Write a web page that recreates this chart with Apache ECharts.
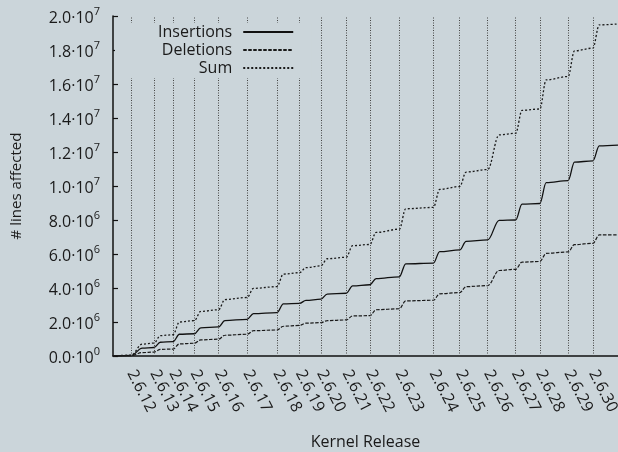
<!DOCTYPE html>
<html>
<head>
<meta charset="utf-8">
<script src="https://cdn.jsdelivr.net/npm/echarts@6/dist/echarts.min.js"></script>
<style>
  html, body { margin: 0; padding: 0; background: #cbd5da; }
  #chart { width: 618px; height: 452px; }
</style>
</head>
<body>
<div id="chart"></div>
<script>
// Kernel releases shown as vertical markers and axis labels
const releaseNames = ['2.6.12', '2.6.13', '2.6.14', '2.6.15', '2.6.16', '2.6.17', '2.6.18',
  '2.6.19', '2.6.20', '2.6.21', '2.6.22', '2.6.23', '2.6.24', '2.6.25', '2.6.26', '2.6.27',
  '2.6.28', '2.6.29', '2.6.30'];
const releaseDates = ['2005-06-17', '2005-08-28', '2005-10-27', '2006-01-02', '2006-03-19',
  '2006-06-17', '2006-09-19', '2006-11-29', '2007-02-04', '2007-04-25', '2007-07-08',
  '2007-10-09', '2008-01-24', '2008-04-16', '2008-07-13', '2008-10-09', '2008-12-24',
  '2009-03-23', '2009-06-09'];

// Sample dates for the cumulative curves: history start, then each release and the end of its merge window
const sampleDates = ['2005-04-21',
  '2005-06-17', '2005-07-22',
  '2005-08-28', '2005-09-17',
  '2005-10-27', '2005-11-16',
  '2006-01-02', '2006-01-22',
  '2006-03-19', '2006-04-08',
  '2006-06-17', '2006-07-07',
  '2006-09-19', '2006-10-09',
  '2006-11-29', '2006-12-19',
  '2007-02-04', '2007-02-24',
  '2007-04-25', '2007-05-15',
  '2007-07-08', '2007-07-28',
  '2007-10-09', '2007-10-29',
  '2008-01-24', '2008-02-13',
  '2008-04-16', '2008-05-06',
  '2008-07-13', '2008-08-18',
  '2008-10-09', '2008-10-29',
  '2008-12-24', '2009-01-13',
  '2009-03-23', '2009-04-12',
  '2009-06-09', '2009-06-29',
  '2009-08-27'];

// Cumulative lines affected
const insertions = [0,
  30000, 460000, 500000, 810000, 840000, 1280000, 1310000, 1660000,
  1710000, 2080000, 2160000, 2490000, 2550000, 3070000, 3100000, 3270000,
  3340000, 3640000, 3690000, 4130000, 4190000, 4550000, 4660000, 5420000,
  5460000, 6140000, 6240000, 6740000, 6830000, 7980000, 8000000, 8930000,
  8970000, 10200000, 10320000, 11400000, 11480000, 12360000,
  12400000];
const deletions = [0,
  20000, 200000, 230000, 390000, 410000, 710000, 750000, 950000,
  990000, 1220000, 1280000, 1490000, 1530000, 1750000, 1800000, 1930000,
  1960000, 2080000, 2120000, 2360000, 2370000, 2720000, 2780000, 3240000,
  3280000, 3660000, 3730000, 4080000, 4140000, 5030000, 5100000, 5520000,
  5560000, 6040000, 6120000, 6550000, 6630000, 7120000,
  7130000];
const sums = [0,
  50000, 700000, 760000, 1200000, 1250000, 2000000, 2080000, 2620000,
  2720000, 3320000, 3440000, 3980000, 4080000, 4820000, 4900000, 5200000,
  5300000, 5720000, 5810000, 6490000, 6560000, 7270000, 7460000, 8660000,
  8740000, 9800000, 9970000, 10820000, 10970000, 13010000, 13100000, 14450000,
  14530000, 16240000, 16440000, 17950000, 18110000, 19480000,
  19530000];

const axisStart = '2005-04-21';
const axisEnd = '2009-08-27';

const FONT = '"Open Sans"';
const INK = '#1a1a1a';
// Dates become millisecond timestamps on a linear axis
const toTime = d => Date.UTC(+d.slice(0, 4), +d.slice(5, 7) - 1, +d.slice(8, 10));
const releaseTimes = releaseDates.map(toTime);
const releaseByTime = {};
releaseTimes.forEach((t, i) => { releaseByTime[t] = releaseNames[i]; });

const pairs = values => sampleDates.map((d, i) => [toTime(d), values[i]]);

function sciLabel(v) {
  if (v === 0) return '{m|0.0·10}{e|0}';
  const exp = Math.floor(Math.log10(v) + 1e-9);
  const mant = (v / Math.pow(10, exp)).toFixed(1);
  return '{m|' + mant + '·10}{e|' + exp + '}';
}

const chart = echarts.init(document.getElementById('chart'), null, { renderer: 'canvas' });

const lineBase = {
  type: 'line',
  showSymbol: false,
  symbol: 'none',
  smooth: 0.35,
  smoothMonotone: 'x',
  animation: false
};

chart.setOption({
  backgroundColor: '#cbd5da',
  animation: false,
  textStyle: { fontFamily: FONT },
  grid: { left: 113, right: 0, top: 16, bottom: 96, containLabel: false, outerBoundsMode: 'none' },
  legend: {
    orient: 'vertical',
    left: 115,
    top: 23,
    align: 'right',
    itemWidth: 50,
    itemHeight: 16,
    itemGap: 2,
    padding: [1, 17, 2, 43],
    backgroundColor: '#cbd5da',
    data: ['Insertions', 'Deletions', 'Sum'],
    itemStyle: { color: 'rgba(0,0,0,0)', borderWidth: 0, opacity: 0 },
    textStyle: { fontFamily: FONT, fontSize: 16, color: INK, lineHeight: 16, padding: [0, 6, 0, 0] },
    z: 10
  },
  xAxis: {
    type: 'value',
    min: toTime(axisStart),
    max: toTime(axisEnd),
    name: 'Kernel Release',
    nameLocation: 'middle',
    nameGap: 78,
    nameTextStyle: { fontFamily: FONT, fontSize: 16, color: INK },
    axisLine: { show: true, lineStyle: { color: '#111', width: 1.5 } },
    axisTick: { show: false },
    splitLine: { show: false },
    axisLabel: {
      customValues: releaseTimes,
      rotate: -63,
      margin: 15,
      fontFamily: FONT,
      fontSize: 16,
      color: INK,
      hideOverlap: false,
      formatter: v => releaseByTime[v] || ''
    }
  },
  yAxis: {
    type: 'value',
    min: 0,
    max: 20000000,
    interval: 2000000,
    name: '# lines affected',
    nameLocation: 'middle',
    nameGap: 89,
    nameRotate: 90,
    nameTextStyle: { fontFamily: FONT, fontSize: 15, color: INK },
    axisLine: { show: true, lineStyle: { color: '#111', width: 1.5 } },
    axisTick: { show: true, inside: true, length: 5, lineStyle: { color: '#111', width: 1.2 } },
    splitLine: { show: false },
    axisLabel: {
      margin: 13,
      formatter: sciLabel,
      rich: {
        m: { fontFamily: FONT, fontSize: 16, color: INK, lineHeight: 20, verticalAlign: 'bottom' },
        e: { fontFamily: FONT, fontSize: 11, color: INK, lineHeight: 11, verticalAlign: 'top' }
      }
    }
  },
  series: [
    Object.assign({}, lineBase, {
      name: 'Insertions',
      data: pairs(insertions),
      lineStyle: { color: '#111', width: 1.3, type: 'solid' },
      itemStyle: { color: '#111' },
      z: 3,
      markLine: {
        silent: true,
        symbol: 'none',
        animation: false,
        label: { show: false },
        lineStyle: { color: '#444', width: 1, type: [1, 1.5] },
        emphasis: { disabled: true },
        data: releaseTimes.map(t => ({ xAxis: t }))
      }
    }),
    Object.assign({}, lineBase, {
      name: 'Deletions',
      data: pairs(deletions),
      lineStyle: { color: INK, width: 1.2, type: [3.5, 1.5] },
      itemStyle: { color: INK },
      z: 3
    }),
    Object.assign({}, lineBase, {
      name: 'Sum',
      data: pairs(sums),
      lineStyle: { color: INK, width: 1.3, type: [2, 2] },
      itemStyle: { color: INK },
      z: 3
    })
  ]
});
</script>
</body>
</html>
